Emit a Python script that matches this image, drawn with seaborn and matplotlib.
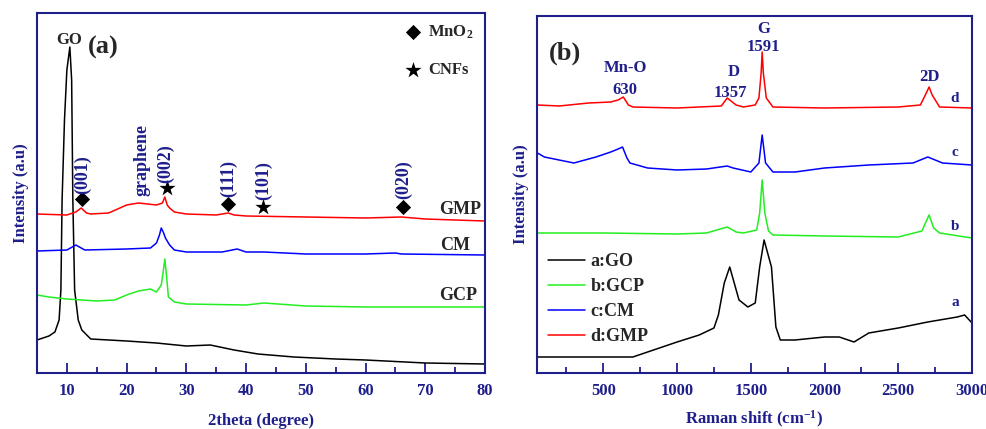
import matplotlib
matplotlib.use("Agg")
import matplotlib.pyplot as plt
import seaborn as sns

# ---- XRD data (a), intensities in arbitrary units ----
go_x = [5, 6, 7, 8, 8.7, 9.0, 9.2, 9.6, 10.0, 10.5, 10.8, 11.0, 11.3, 11.9, 12.5, 14, 17, 20, 25, 30, 34, 38, 42, 48, 55, 60, 70, 80]
go_y = [33, 35, 37, 41, 53, 83, 173, 253, 303, 326, 293, 173, 83, 53, 43, 34, 33, 32, 30, 27, 28, 23, 19, 16, 14, 13, 10, 9]

gcp_x = [5, 7, 10, 15, 18, 20, 22, 24, 25, 25.8, 26.1, 26.4, 26.7, 27, 28, 30, 40, 43, 50, 60, 70, 80]
gcp_y = [78, 76, 74, 72, 73, 78, 82, 84, 81, 88, 100, 114, 96, 76, 71, 69, 68, 70, 67, 66, 66, 66]

cm_x = [5, 10, 11.5, 13, 20, 24, 25, 25.5, 25.8, 26.2, 26.5, 27.2, 28, 30, 36, 38.5, 40, 43, 50, 60, 65, 66, 80]
cm_y = [122, 123, 128, 123, 124, 125, 130, 138, 145, 140, 135, 128, 123, 121, 121, 124, 121, 121, 119, 119, 120, 119, 118]

gmp_x = [5, 10, 11.5, 12.4, 13.3, 14, 17, 20, 22, 25, 26, 26.4, 26.8, 27.2, 28, 30, 35, 37, 38, 40, 50, 60, 66, 70, 80]
gmp_y = [159, 158, 161, 165, 160, 159, 160, 168, 170, 168, 170, 176, 168, 165, 161, 159, 158, 160, 158, 157, 156, 155, 156, 154, 152]

mno2_x = [12.5, 37.0, 66.3]
mno2_y = [174, 169, 166]
cnf_x = [26.8, 42.9]
cnf_y = [185, 166]

peak_labels = ["(001)", "graphene", "(002)", "(111)", "(101)", "(020)"]
peak_label_x = [12.7, 22.6, 26.6, 37.0, 42.9, 66.3]
peak_label_y = [179, 177, 190, 176, 173, 174]

# ---- Raman data (b) ----
a_x = [53, 700, 800, 1000, 1150, 1250, 1280, 1320, 1357, 1420, 1480, 1530, 1560, 1590, 1640, 1670, 1700, 1800, 2000, 2100, 2200, 2300, 2500, 2700, 2900, 2950, 3000]
a_y = [16, 16, 21, 31, 38, 45, 58, 90, 106, 73, 66, 70, 106, 133, 106, 46, 33, 33, 36, 36, 31, 40, 45, 51, 56, 58, 50]

b_x = [53, 500, 1000, 1200, 1340, 1400, 1450, 1540, 1560, 1577, 1595, 1620, 1650, 2000, 2500, 2660, 2709, 2740, 2780, 3000]
b_y = [140, 140, 139, 140, 146, 141, 140, 143, 160, 193, 160, 142, 138, 137, 136, 142, 158, 145, 140, 135]

c_x = [53, 100, 300, 450, 550, 600, 630, 660, 680, 800, 1000, 1200, 1340, 1380, 1500, 1555, 1577, 1600, 1650, 1800, 2000, 2300, 2600, 2700, 2800, 3000]
c_y = [220, 216, 210, 216, 221, 224, 226, 215, 210, 205, 203, 204, 207, 205, 201, 210, 238, 210, 201, 201, 205, 208, 210, 216, 210, 208]

d_x = [53, 200, 400, 550, 600, 635, 670, 700, 1000, 1300, 1340, 1400, 1450, 1530, 1555, 1570, 1577, 1585, 1605, 1650, 2000, 2500, 2650, 2690, 2709, 2730, 2780, 3000]
d_y = [268, 267, 270, 271, 273, 276, 268, 266, 265, 267, 275, 268, 266, 268, 275, 300, 321, 300, 275, 266, 265, 266, 268, 280, 286, 278, 266, 265]

band_labels = ["Mn-O", "630", "D", "1357", "G", "1591", "2D"]
band_x = [649, 649, 1381, 1362, 1584, 1584, 2715]
band_y = [305, 283, 301, 280, 344, 326, 296]

curve_tags = ["d", "c", "b", "a"]
curve_tag_y = [275, 220, 146, 70]

navy = "#1f1f8c"

sns.set_style("ticks")
plt.rcParams["font.family"] = ["Liberation Serif", "DejaVu Serif"]
plt.rcParams["font.weight"] = "bold"
plt.rcParams["mathtext.fontset"] = "custom"
plt.rcParams["mathtext.rm"] = "Liberation Serif:bold"
plt.rcParams["mathtext.bf"] = "Liberation Serif:bold"
plt.rcParams["mathtext.default"] = "rm"

fig = plt.figure(figsize=(9.87, 4.29), dpi=100)
ax1 = fig.add_axes([37 / 987, 56 / 429, 448 / 987, 360 / 429])
ax2 = fig.add_axes([537 / 987, 56 / 429, 435 / 987, 357 / 429])

lw = 1.1
# --- panel (a) ---
sns.lineplot(x=go_x, y=go_y, ax=ax1, color="black", linewidth=lw)
sns.lineplot(x=gcp_x, y=gcp_y, ax=ax1, color="#22ee22", linewidth=lw)
sns.lineplot(x=cm_x, y=cm_y, ax=ax1, color="#0000ff", linewidth=lw)
sns.lineplot(x=gmp_x, y=gmp_y, ax=ax1, color="#ff0000", linewidth=lw)
sns.scatterplot(x=mno2_x, y=mno2_y, ax=ax1, marker="D", s=60, color="black", linewidth=0)
sns.scatterplot(x=cnf_x, y=cnf_y, ax=ax1, marker="*", s=150, color="black", linewidth=0)

for lab, x, y in zip(peak_labels, peak_label_x, peak_label_y):
    ax1.text(x, y, lab, rotation=90, ha="center", va="bottom", color=navy,
             fontsize=13, fontweight="bold")

ax1.text(10.4, 333, "GO", ha="center", va="center", fontsize=12, fontweight="bold")
ax1.text(16.1, 326, "(a)", ha="center", va="center", fontsize=19, fontweight="bold")
ax1.text(75.9, 163, "GMP", ha="center", va="center", fontsize=13, fontweight="bold")
ax1.text(75.0, 128, "CM", ha="center", va="center", fontsize=13, fontweight="bold")
ax1.text(75.5, 78, "GCP", ha="center", va="center", fontsize=13, fontweight="bold")

# marker key in the corner
sns.scatterplot(x=[68], y=[341], ax=ax1, marker="D", s=60, color="black", linewidth=0)
sns.scatterplot(x=[68], y=[303], ax=ax1, marker="*", s=150, color="black", linewidth=0)
ax1.text(70.5, 341, "MnO$_2$", ha="left", va="center", fontsize=12, fontweight="bold")
ax1.text(70.5, 303, "CNFs", ha="left", va="center", fontsize=12, fontweight="bold")

ax1.set_xlim(5, 80)
ax1.set_ylim(0, 360)
ax1.set_xticks([10, 20, 30, 40, 50, 60, 70, 80])
ax1.set_xticks([15, 25, 35, 45, 55, 65, 75], minor=True)
ax1.set_xlabel("2theta (degree)", color=navy, fontsize=12, fontweight="bold", labelpad=10)

# --- panel (b) ---
sns.lineplot(x=a_x, y=a_y, ax=ax2, color="black", linewidth=lw, label="a:GO")
sns.lineplot(x=b_x, y=b_y, ax=ax2, color="#22ee22", linewidth=lw, label="b:GCP")
sns.lineplot(x=c_x, y=c_y, ax=ax2, color="#0000ff", linewidth=lw, label="c:CM")
sns.lineplot(x=d_x, y=d_y, ax=ax2, color="#ff0000", linewidth=lw, label="d:GMP")

for lab, x, y in zip(band_labels, band_x, band_y):
    ax2.text(x, y, lab, ha="center", va="center", color=navy, fontsize=12, fontweight="bold")
for tag, y in zip(curve_tags, curve_tag_y):
    ax2.text(2885, y, tag, ha="center", va="center", color=navy, fontsize=11, fontweight="bold")
ax2.text(243, 320, "(b)", ha="center", va="center", fontsize=19, fontweight="bold")

ax2.legend(loc="lower left", bbox_to_anchor=(-0.012, 0.032), frameon=False, fontsize=13,
           handlelength=2.05, labelspacing=0.45, handletextpad=0.3)
ax2.set_xlim(50, 3000)
ax2.set_ylim(0, 357)
ax2.set_xticks([500, 1000, 1500, 2000, 2500, 3000])
ax2.set_xticks([250, 750, 1250, 1750, 2250, 2750], minor=True)
ax2.set_xlabel("Raman shift (cm$^{-1}$)", color=navy, fontsize=12, fontweight="bold", labelpad=7)

for ax in (ax1, ax2):
    ax.set_yticks([])
    ax.set_ylabel("Intensity (a.u)", color=navy, fontsize=12, fontweight="bold", labelpad=6)
    for sp in ax.spines.values():
        sp.set_visible(True)
        sp.set_color(navy)
        sp.set_linewidth(1.5)
    ax.tick_params(axis="x", which="major", direction="in", length=7, width=1.3,
                   color=navy, labelcolor=navy, labelsize=12, pad=7)
    ax.tick_params(axis="x", which="minor", direction="in", length=4, width=1.3, color=navy)
    for t in ax.get_xticklabels():
        t.set_fontweight("bold")

fig.savefig("out.png", dpi=100)
